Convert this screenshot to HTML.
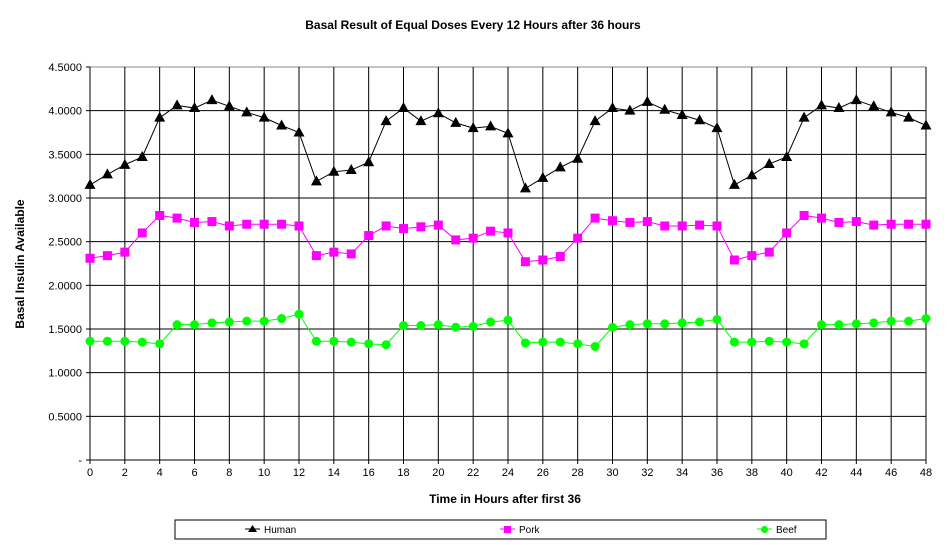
<!DOCTYPE html>
<html><head><meta charset="utf-8"><style>body{margin:0;background:#fff}svg{display:block}</style></head>
<body>
<svg id="s" width="947" height="545" xmlns="http://www.w3.org/2000/svg" font-family="Liberation Sans, Arial, sans-serif">
<text x="473" y="29" font-size="12" text-anchor="middle" font-weight="bold">Basal Result of Equal Doses Every 12 Hours after 36 hours</text>
<text x="505" y="503" font-size="12" text-anchor="middle" font-weight="bold">Time in Hours after first 36</text>
<text transform="translate(24,264) rotate(-90)" font-size="12" text-anchor="middle" font-weight="bold">Basal Insulin Available</text>
<g id="g"></g>
<rect x="175" y="520" width="651" height="19" fill="none" stroke="#000"/>
<line x1="245" y1="529" x2="260" y2="529" stroke="#000"/><polygon points="252.5,525 248,532 257,532" fill="#000"/>
<text x="264" y="533" font-size="10">Human</text>
<line x1="500" y1="529" x2="515" y2="529" stroke="#f0f"/><rect x="504" y="526" width="7" height="7" fill="#f0f"/>
<text x="519" y="533" font-size="10">Pork</text>
<line x1="757" y1="529" x2="772" y2="529" stroke="#0f0"/><circle cx="764.5" cy="529.5" r="3.5" fill="#0f0"/>
<text x="776" y="533" font-size="10">Beef</text>
</svg>
<script>
const L=90,R=926,T=67,B=460,dx=(R-L)/48,k=(B-T)/4.5;
const X=h=>L+h*dx,Y=v=>B-v*k;
let s='';
for(let i=0;i<=9;i++){const y=Y(i*0.5);s+=`<line x1="${L}" y1="${y}" x2="${R}" y2="${y}" stroke="${i==9?'#888':'#000'}"/>`;
s+=`<line x1="${L-4}" y1="${y}" x2="${L}" y2="${y}" stroke="#000"/>`;
s+=`<text x="${L-8}" y="${y+4}" font-size="11" text-anchor="end">${i==0?'-':(i*0.5).toFixed(4)}</text>`;}
for(let h=0;h<=48;h+=2){const x=X(h);s+=`<line x1="${x}" y1="${T}" x2="${x}" y2="${B+4}" stroke="#000"/>`;
s+=`<text x="${x}" y="${B+16}" font-size="11" text-anchor="middle">${h}</text>`;}
s+=`<line x1="${R}" y1="${T}" x2="${R}" y2="${B}" stroke="#000"/>`;
const hu=[3.15,3.27,3.38,3.47,3.92,4.06,4.03,4.12,4.05,3.98,3.92,3.83,3.75,3.19,3.30,3.32,3.41,3.88,4.03,3.88,3.97,3.86,3.80,3.82,3.74,3.11,3.23,3.35,3.45,3.88,4.03,4.00,4.10,4.01,3.95,3.89,3.80,3.15,3.26,3.39,3.47,3.92,4.06,4.03,4.12,4.05,3.98,3.92,3.83];
const po=[2.31,2.34,2.38,2.60,2.80,2.77,2.72,2.73,2.68,2.70,2.70,2.70,2.68,2.34,2.38,2.36,2.57,2.68,2.65,2.67,2.69,2.52,2.54,2.62,2.60,2.27,2.29,2.33,2.54,2.77,2.74,2.72,2.73,2.68,2.68,2.69,2.68,2.29,2.34,2.38,2.60,2.80,2.77,2.72,2.73,2.69,2.70,2.70,2.70];
const be=[1.36,1.36,1.36,1.35,1.33,1.55,1.55,1.57,1.58,1.59,1.59,1.62,1.67,1.36,1.36,1.35,1.33,1.32,1.54,1.54,1.55,1.52,1.53,1.58,1.60,1.34,1.35,1.35,1.33,1.30,1.52,1.55,1.56,1.56,1.57,1.58,1.61,1.35,1.35,1.36,1.35,1.33,1.55,1.55,1.56,1.57,1.59,1.59,1.62];
function ser(d,c,m){s+=`<polyline fill="none" stroke="${c}" points="${d.map((v,i)=>X(i)+','+Y(v)).join(' ')}"/>`;
d.forEach((v,i)=>{const x=X(i),y=Y(v);
if(m==0)s+=`<polygon points="${x},${y-6} ${x-5.5},${y+4} ${x+5.5},${y+4}" fill="${c}"/>`;
else if(m==1)s+=`<rect x="${x-4.5}" y="${y-4.5}" width="9" height="9" fill="${c}"/>`;
else s+=`<circle cx="${x}" cy="${y}" r="4.5" fill="${c}"/>`;});}
ser(hu,'#000',0);ser(po,'#f0f',1);ser(be,'#0f0',2);
document.getElementById('g').innerHTML=s;
</script>
</body></html>
